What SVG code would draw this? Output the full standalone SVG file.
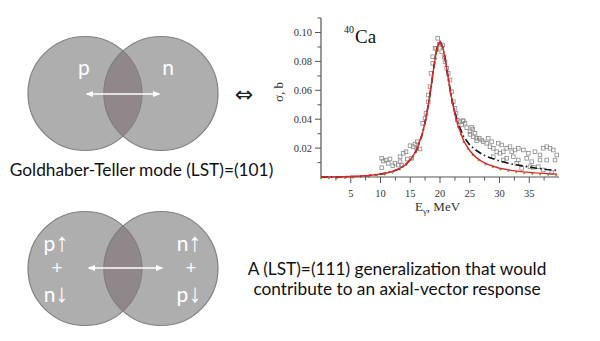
<svg xmlns="http://www.w3.org/2000/svg" xmlns:xlink="http://www.w3.org/1999/xlink" width="600" height="341" viewBox="0 0 600 341">
<style>
.circ{fill:#aeaeae;stroke:#808080;stroke-width:1.2}
.lens{fill:#8f8789;stroke:#808080;stroke-width:1.2}
.lbl{font-family:Lato,"Liberation Sans","DejaVu Sans",sans-serif;font-size:21px;fill:#ffffff}
.ar{font-family:"Liberation Sans","DejaVu Sans",sans-serif;font-size:26px}
.pl{font-family:"Liberation Sans",sans-serif;font-size:18px;fill:#ffffff}
.cap{font-family:Lato,"Open Sans",sans-serif;font-size:17.3px;fill:#111111}
.ax{stroke:#555555;stroke-width:1.2;fill:none}
.tk{stroke:#555555;stroke-width:1;fill:none}
.num{font-family:"Liberation Serif",serif;font-size:10.5px;fill:#333333}
.arr{stroke:#ffffff;stroke-width:1.6;fill:none;marker-start:url(#ah);marker-end:url(#ah)}
</style>
<defs>
<marker id="ah" viewBox="0 0 10 10" refX="8" refY="5" markerWidth="5" markerHeight="5" orient="auto-start-reverse" markerUnits="strokeWidth"><path d="M0,1 L10,5 L0,9 Z" fill="#ffffff"/></marker>
<rect id="sq" x="-1.8" y="-1.8" width="3.6" height="3.6" fill="none" stroke="#8a8a8a" stroke-width="0.8"/>
</defs>
<rect width="600" height="341" fill="#ffffff"/>

<g id="gt-mode">
<circle class="circ" cx="85" cy="93.5" r="57"/>
<circle class="circ" cx="161" cy="93.5" r="57"/>
<path class="lens" d="M123,51 A57,57 0 0 1 123,136 A57,57 0 0 1 123,51 Z"/>
<text class="lbl" x="84" y="75" text-anchor="middle">p</text>
<text class="lbl" x="168" y="75" text-anchor="middle">n</text>
</g>
<g id="gt-caption"><text class="cap" x="141.5" y="176" text-anchor="middle">Goldhaber-Teller mode (LST)=(101)</text></g>

<g id="equiv"><text x="244" y="102" text-anchor="middle" font-family="DejaVu Sans,sans-serif" font-size="22" fill="#222">⇔</text></g>

<g id="axial-mode">
<circle class="circ" cx="85" cy="268.5" r="57"/>
<circle class="circ" cx="161" cy="268.5" r="57"/>
<path class="lens" d="M123,226 A57,57 0 0 1 123,311 A57,57 0 0 1 123,226 Z"/>
<text class="lbl" x="56" y="251" text-anchor="middle">p<tspan class="ar">↑</tspan></text>
<text class="pl" x="57" y="274" text-anchor="middle">+</text>
<text class="lbl" x="56" y="302" text-anchor="middle">n<tspan class="ar">↓</tspan></text>
<text class="lbl" x="189" y="251" text-anchor="middle">n<tspan class="ar">↑</tspan></text>
<text class="pl" x="191" y="274" text-anchor="middle">+</text>
<text class="lbl" x="189" y="302" text-anchor="middle">p<tspan class="ar">↓</tspan></text>
</g>
<g id="axial-caption">
<text class="cap" x="397" y="275" text-anchor="middle">A (LST)=(111) generalization that would</text>
<text class="cap" x="397" y="295" text-anchor="middle">contribute to an axial-vector response</text>
</g>

<g id="connectors">
<line class="arr" x1="87" y1="94" x2="159" y2="94"/>
<line class="arr" x1="89" y1="268" x2="162" y2="268"/>
</g>

<g id="chart">
<path class="ax" d="M321,18 V177 H559"/>
<path class="tk" d="M315,32.5 H321 M315,61.4 H321 M315,90.3 H321 M315,119.2 H321 M315,148.1 H321 M317.5,18 H321 M317.5,47 H321 M317.5,75.9 H321 M317.5,104.8 H321 M317.5,133.7 H321 M317.5,162.6 H321"/>
<path class="tk" d="M335.9,177 v3.5 M350.75,177 v6 M365.6,177 v3.5 M380.5,177 v6 M395.4,177 v3.5 M410.25,177 v6 M425.1,177 v3.5 M440,177 v6 M454.9,177 v3.5 M469.75,177 v6 M484.6,177 v3.5 M499.5,177 v6 M514.4,177 v3.5 M529.25,177 v6 M544.1,177 v3.5"/>
<g class="num" text-anchor="end">
<text x="312" y="36">0.10</text>
<text x="312" y="65">0.08</text>
<text x="312" y="94">0.06</text>
<text x="312" y="123">0.04</text>
<text x="312" y="152">0.02</text>
</g>
<g class="num" text-anchor="middle">
<text x="350.75" y="197">5</text>
<text x="380.5" y="197">10</text>
<text x="410.25" y="197">15</text>
<text x="440" y="197">20</text>
<text x="469.75" y="197">25</text>
<text x="499.5" y="197">30</text>
<text x="529.25" y="197">35</text>
</g>
<text transform="translate(283,92) rotate(-90)" text-anchor="middle" font-family="Liberation Serif,serif" font-size="13" fill="#333">σ, b</text>
<text x="437.5" y="211" text-anchor="middle" font-family="Liberation Serif,serif" font-size="13" fill="#333">E<tspan font-size="9" dy="3">γ</tspan><tspan dy="-3">, MeV</tspan></text>
<text x="344" y="33" font-family="Liberation Serif,serif" font-size="10" fill="#111">40</text>
<text x="355" y="43" font-family="Liberation Serif,serif" font-size="19" fill="#111">Ca</text>

<g id="data">
<use xlink:href="#sq" x="381.7" y="158.3"/><use xlink:href="#sq" x="383.3" y="161"/><use xlink:href="#sq" x="381.7" y="167.7"/><use xlink:href="#sq" x="386" y="160"/><use xlink:href="#sq" x="388.3" y="163.3"/><use xlink:href="#sq" x="390" y="159"/><use xlink:href="#sq" x="392.7" y="165.7"/><use xlink:href="#sq" x="395" y="163.3"/><use xlink:href="#sq" x="398.3" y="165"/><use xlink:href="#sq" x="400" y="161.7"/><use xlink:href="#sq" x="400" y="156.7"/><use xlink:href="#sq" x="403.3" y="153.3"/><use xlink:href="#sq" x="406" y="151.7"/><use xlink:href="#sq" x="401.7" y="165"/><use xlink:href="#sq" x="410" y="145.7"/><use xlink:href="#sq" x="413.3" y="146.7"/><use xlink:href="#sq" x="415" y="144.3"/><use xlink:href="#sq" x="416.7" y="148.3"/><use xlink:href="#sq" x="420" y="149"/><use xlink:href="#sq" x="417.3" y="141.7"/><use xlink:href="#sq" x="411.7" y="158.3"/><use xlink:href="#sq" x="407.3" y="159"/>
<use xlink:href="#sq" x="422.7" y="123.3"/><use xlink:href="#sq" x="425" y="118.3"/><use xlink:href="#sq" x="426" y="113.3"/><use xlink:href="#sq" x="428.3" y="101.7"/><use xlink:href="#sq" x="428.3" y="95"/><use xlink:href="#sq" x="430" y="86.7"/><use xlink:href="#sq" x="431" y="73.3"/><use xlink:href="#sq" x="432.7" y="63.3"/><use xlink:href="#sq" x="432.7" y="56.7"/><use xlink:href="#sq" x="435" y="48.3"/><use xlink:href="#sq" x="437.7" y="38.3"/><use xlink:href="#sq" x="436.7" y="48.3"/><use xlink:href="#sq" x="439.3" y="44.3"/><use xlink:href="#sq" x="442.7" y="45"/><use xlink:href="#sq" x="441.7" y="51.7"/><use xlink:href="#sq" x="444" y="56.7"/><use xlink:href="#sq" x="445" y="61.7"/><use xlink:href="#sq" x="446.7" y="68.3"/><use xlink:href="#sq" x="448.3" y="73.3"/><use xlink:href="#sq" x="450" y="80"/><use xlink:href="#sq" x="451.7" y="91.7"/><use xlink:href="#sq" x="453.3" y="101.7"/><use xlink:href="#sq" x="455" y="108.3"/><use xlink:href="#sq" x="456" y="113.3"/><use xlink:href="#sq" x="457.3" y="120"/><use xlink:href="#sq" x="460" y="121.7"/><use xlink:href="#sq" x="462.7" y="121"/><use xlink:href="#sq" x="465" y="123.3"/><use xlink:href="#sq" x="466.7" y="127.7"/><use xlink:href="#sq" x="470" y="131.7"/><use xlink:href="#sq" x="472.7" y="129"/><use xlink:href="#sq" x="475" y="133.3"/><use xlink:href="#sq" x="473.3" y="136.7"/><use xlink:href="#sq" x="476.7" y="138.3"/>
<use xlink:href="#sq" x="463.3" y="120.7"/><use xlink:href="#sq" x="461.7" y="125"/><use xlink:href="#sq" x="471.7" y="127.3"/><use xlink:href="#sq" x="470" y="134.3"/><use xlink:href="#sq" x="479.3" y="138.3"/><use xlink:href="#sq" x="481.7" y="140"/><use xlink:href="#sq" x="476.7" y="140.7"/><use xlink:href="#sq" x="483.3" y="141.7"/><use xlink:href="#sq" x="488.3" y="138.3"/><use xlink:href="#sq" x="486.7" y="143.3"/><use xlink:href="#sq" x="490" y="146.7"/><use xlink:href="#sq" x="493.3" y="148.3"/><use xlink:href="#sq" x="498.3" y="143.3"/><use xlink:href="#sq" x="501.7" y="145"/><use xlink:href="#sq" x="496.7" y="151.7"/><use xlink:href="#sq" x="500" y="153.3"/><use xlink:href="#sq" x="503.3" y="151.7"/><use xlink:href="#sq" x="506.7" y="148.3"/><use xlink:href="#sq" x="510" y="146.7"/><use xlink:href="#sq" x="511.7" y="151.7"/><use xlink:href="#sq" x="515" y="150"/><use xlink:href="#sq" x="518.3" y="148.3"/><use xlink:href="#sq" x="523.3" y="150"/><use xlink:href="#sq" x="513.3" y="156.7"/><use xlink:href="#sq" x="518.3" y="160"/><use xlink:href="#sq" x="526.7" y="158.3"/><use xlink:href="#sq" x="531.7" y="161.7"/><use xlink:href="#sq" x="535" y="151.7"/><use xlink:href="#sq" x="540" y="155"/><use xlink:href="#sq" x="543.3" y="148.3"/><use xlink:href="#sq" x="546.7" y="146.7"/><use xlink:href="#sq" x="550" y="148.3"/><use xlink:href="#sq" x="553.3" y="150"/><use xlink:href="#sq" x="556.7" y="155"/><use xlink:href="#sq" x="555" y="160"/><use xlink:href="#sq" x="546.7" y="160"/><use xlink:href="#sq" x="540" y="160"/><use xlink:href="#sq" x="538.3" y="166.7"/><use xlink:href="#sq" x="530" y="166.7"/><use xlink:href="#sq" x="521.7" y="168.3"/><use xlink:href="#sq" x="506.7" y="158.3"/><use xlink:href="#sq" x="503.3" y="160"/><use xlink:href="#sq" x="493.3" y="156.7"/><use xlink:href="#sq" x="528.3" y="153.3"/><use xlink:href="#sq" x="491.7" y="141.7"/><use xlink:href="#sq" x="516.7" y="163.3"/><use xlink:href="#sq" x="543.3" y="170"/><use xlink:href="#sq" x="551.7" y="172.7"/><use xlink:href="#sq" x="533.3" y="167.3"/>
</g>
<path id="green" fill="none" stroke="#66bb33" stroke-width="2.2" stroke-linecap="round" stroke-dasharray="0,8" d="M321,178.2 L332.9,178.1 L344.8,177.9 L356.7,177.5 L368.6,176.7 L380.5,175.3 L386.45,174.2 L392.4,172.7 L398.35,170.4 L404.3,166.9 L410.25,161.3 L416.2,152 L422.15,135.8 L428.1,107.5 L434.05,66.5 L440,42 L445.95,64.5 L451.9,100.5 L457.85,126.5 L463.8,142.3 L469.75,152 L475.7,158.3 L481.65,162.5 L487.6,165.5 L499.5,169.4 L511.4,171.6 L523.3,173.1 L535.2,174.1 L547.1,174.8 L557.2,175.3"/>
<path id="black" fill="none" stroke="#111111" stroke-width="1.6" stroke-dasharray="7,3,1.5,3" d="M321,177 L332.9,176.9 L344.8,176.7 L356.7,176.3 L368.6,175.5 L380.5,174.1 L386.45,173 L392.4,171.5 L398.35,169.2 L404.3,165.7 L410.25,160.1 L416.2,150.8 L422.15,134.6 L425.1,122.3 L428.1,106.3 L431.1,86.6 L434.05,65.5 L437,48 L440,41.2 L443,47.7 L445.95,63.5 L448.9,82.2 L451.9,99.5 L454.9,112 L457.85,123 L463.8,137 L469.75,145 L475.7,150 L481.65,154 L487.6,157 L499.5,161 L511.4,164 L523.3,166 L535.2,168 L547.1,169.5 L557.2,170.5"/>
<path id="red" fill="none" stroke="#e8202a" stroke-width="1.4" d="M321,177 L332.9,176.9 L344.8,176.7 L356.7,176.3 L368.6,175.5 L380.5,174.1 L386.45,173 L392.4,171.5 L398.35,169.2 L404.3,165.7 L410.25,160.1 L416.2,150.8 L422.15,134.6 L425.1,122.3 L428.1,106.3 L431.1,86.6 L434.05,65.5 L437,48 L440,41.2 L443,47.7 L445.95,63.5 L448.9,82.2 L451.9,99.5 L454.9,113.9 L457.85,125.3 L463.8,141.1 L469.75,150.8 L475.7,157.1 L481.65,161.3 L487.6,164.3 L499.5,168.2 L511.4,170.4 L523.3,171.9 L535.2,172.9 L547.1,173.6 L557.2,174.1"/>
</g>
</svg>
